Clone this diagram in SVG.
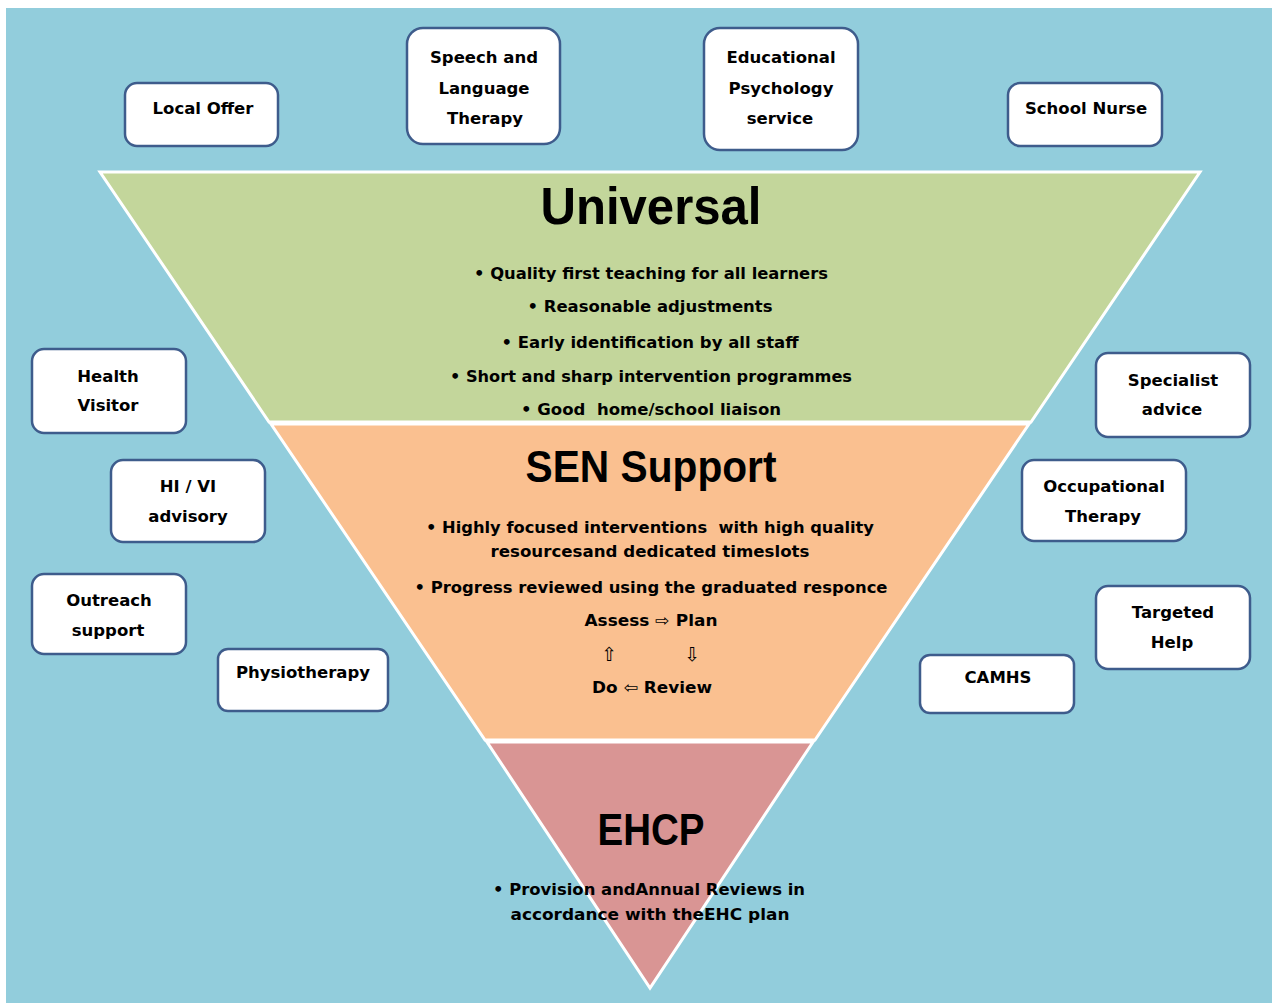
<svg xmlns="http://www.w3.org/2000/svg" width="1272" height="1003" viewBox="0 0 1272 1003">
<style>
.box{fill:#FFFFFF;stroke:#3E5C8C;stroke-width:2.5}
.lbl{font-family:"DejaVu Sans",Verdana,sans-serif;font-weight:bold;font-size:16.5px;fill:#000;text-anchor:middle}
.band{stroke:#FFFFFF;stroke-width:3;stroke-linejoin:miter}
.title{font-family:"Liberation Sans",Arial,sans-serif;font-weight:bold;fill:#000;text-anchor:middle}
.bul{font-family:"DejaVu Sans",Verdana,sans-serif;font-weight:bold;font-size:15.5px;fill:#000;text-anchor:middle;white-space:pre}
.arr{font-family:"DejaVu Sans",sans-serif;font-weight:normal;font-size:16px;fill:#000}
.varr{font-family:"DejaVu Sans",sans-serif;font-weight:normal;font-size:19px;fill:#000;text-anchor:middle}
</style>
<rect x="0" y="0" width="1272" height="1003" fill="#FFFFFF"/>
<rect x="6" y="8" width="1266" height="995" fill="#92CDDC"/>
<g id="pyramid">
<g id="universal">
<polygon class="band" points="100,172 1200,172 1031,422 269,422" fill="#C3D69B"/>
<text class="title" x="651" y="224" font-size="52" textLength="221" lengthAdjust="spacingAndGlyphs">Universal</text>
<text class="bul" x="651" y="279" textLength="354" lengthAdjust="spacingAndGlyphs">• Quality first teaching for all learners</text>
<text class="bul" x="650" y="312" textLength="245" lengthAdjust="spacingAndGlyphs">• Reasonable adjustments</text>
<text class="bul" x="650" y="348" textLength="297" lengthAdjust="spacingAndGlyphs">• Early identification by all staff</text>
<text class="bul" x="651" y="382" textLength="402" lengthAdjust="spacingAndGlyphs">• Short and sharp intervention programmes</text>
<text class="bul" x="651" y="415" textLength="260" lengthAdjust="spacingAndGlyphs">• Good  home/school liaison</text>
</g>
<g id="sen">
<polygon class="band" points="271,424 1029,424 815,740 485,740" fill="#FAC090"/>
<text class="title" x="651" y="482" font-size="44" textLength="251" lengthAdjust="spacingAndGlyphs">SEN Support</text>
<text class="bul" x="650" y="533" textLength="448" lengthAdjust="spacingAndGlyphs">• Highly focused interventions  with high quality</text>
<text class="bul" x="650" y="557" textLength="319" lengthAdjust="spacingAndGlyphs">resourcesand dedicated timeslots</text>
<text class="bul" x="651" y="593" textLength="473" lengthAdjust="spacingAndGlyphs">• Progress reviewed using the graduated responce</text>
<text class="bul" x="651" y="626" textLength="133" lengthAdjust="spacingAndGlyphs">Assess <tspan class="arr">⇨</tspan> Plan</text>
<text class="varr" x="609" y="661">⇧</text>
<text class="varr" x="692" y="661">⇩</text>
<text class="bul" x="652" y="693" textLength="120" lengthAdjust="spacingAndGlyphs">Do <tspan class="arr">⇦</tspan> Review</text>
</g>
<g id="ehcp">
<polygon class="band" points="487,742 813,742 650,988" fill="#D99594"/>
<text class="title" x="651" y="845" font-size="44" textLength="107" lengthAdjust="spacingAndGlyphs">EHCP</text>
<text class="bul" x="649" y="895" textLength="312" lengthAdjust="spacingAndGlyphs">• Provision andAnnual Reviews in</text>
<text class="bul" x="650" y="920" textLength="279" lengthAdjust="spacingAndGlyphs">accordance with theEHC plan</text>
</g>
</g>
<g id="connectors"></g>
<g id="local-offer"><rect class="box" x="125" y="83" width="153" height="63" rx="12"/><text class="lbl" x="203" y="114">Local Offer</text></g>
<g id="speech-language"><rect class="box" x="407" y="28" width="153" height="116" rx="16"/><text class="lbl" x="484" y="63">Speech and</text><text class="lbl" x="484" y="94">Language</text><text class="lbl" x="485" y="124">Therapy</text></g>
<g id="ed-psych"><rect class="box" x="704" y="28" width="154" height="122" rx="16"/><text class="lbl" x="781" y="63">Educational</text><text class="lbl" x="781" y="94">Psychology</text><text class="lbl" x="780" y="124">service</text></g>
<g id="school-nurse"><rect class="box" x="1008" y="83" width="154" height="63" rx="12"/><text class="lbl" x="1086" y="114">School Nurse</text></g>
<g id="health-visitor"><rect class="box" x="32" y="349" width="154" height="84" rx="12"/><text class="lbl" x="108" y="382">Health</text><text class="lbl" x="108" y="411">Visitor</text></g>
<g id="hi-vi"><rect class="box" x="111" y="460" width="154" height="82" rx="12"/><text class="lbl" x="188" y="492">HI / VI</text><text class="lbl" x="188" y="522">advisory</text></g>
<g id="outreach"><rect class="box" x="32" y="574" width="154" height="80" rx="12"/><text class="lbl" x="109" y="606">Outreach</text><text class="lbl" x="108" y="636">support</text></g>
<g id="physio"><rect class="box" x="218" y="649" width="170" height="62" rx="10"/><text class="lbl" x="303" y="678">Physiotherapy</text></g>
<g id="specialist"><rect class="box" x="1096" y="353" width="154" height="84" rx="12"/><text class="lbl" x="1173" y="386">Specialist</text><text class="lbl" x="1172" y="415">advice</text></g>
<g id="occupational"><rect class="box" x="1022" y="460" width="164" height="81" rx="12"/><text class="lbl" x="1104" y="492">Occupational</text><text class="lbl" x="1103" y="522">Therapy</text></g>
<g id="targeted"><rect class="box" x="1096" y="586" width="154" height="83" rx="12"/><text class="lbl" x="1173" y="618">Targeted</text><text class="lbl" x="1172" y="648">Help</text></g>
<g id="camhs"><rect class="box" x="920" y="655" width="154" height="58" rx="10"/><text class="lbl" x="998" y="683">CAMHS</text></g>
</svg>
